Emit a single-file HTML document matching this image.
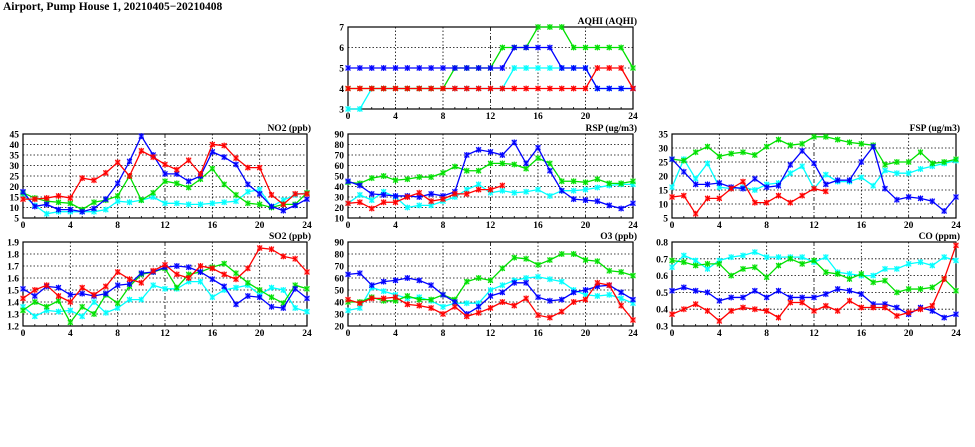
<!DOCTYPE html>
<html><head><meta charset="utf-8"><style>
html,body{margin:0;padding:0;background:#fff;width:975px;height:447px;overflow:hidden}
svg{display:block}
text{font-family:"Liberation Serif",serif;font-weight:bold;fill:#000}
</style></head><body>
<svg id="chart" width="975" height="447" xmlns="http://www.w3.org/2000/svg">
<text x="3" y="10" font-size="11.5">Airport, Pump House 1, 20210405−20210408</text>
</svg>
<script>
const hours = [0,1,2,3,4,5,6,7,8,9,10,11,12,13,14,15,16,17,18,19,20,21,22,23,24];
const xTicks = [0,4,8,12,16,20,24];
const seriesColors = ["#00ffff","#00e000","#0000ff","#ff0000"];

const aqhiTicks = [3,4,5,6,7];
const aqhiCyan  = [3,3,4,4,4,4,4,4,4,4,4,4,4,4,5,5,5,5,5,5,5,4,4,4,4];
const aqhiGreen = [4,4,4,4,4,4,4,4,4,5,5,5,5,6,6,6,7,7,7,6,6,6,6,6,5];
const aqhiBlue  = [5,5,5,5,5,5,5,5,5,5,5,5,5,5,6,6,6,6,5,5,5,4,4,4,4];
const aqhiRed   = [4,4,4,4,4,4,4,4,4,4,4,4,4,4,4,4,4,4,4,4,4,5,5,5,4];

const no2Ticks = [5,10,15,20,25,30,35,40,45];
const no2Cyan  = [16,11,7,8,8,8,8,9,13,12.5,13.5,15,12,12,11.5,11.5,12,12.5,13,17.5,18.5,10.5,13.5,16,17];
const no2Green = [17,14.5,13,12.5,12,9,12.5,13.5,15.5,25,13.5,17,22.5,21.5,19.5,23.5,28.5,21,16,12,11.5,10,11.5,11.5,17];
const no2Blue  = [17.5,10.5,11.5,9,9,8,9.5,14,21.5,32,44,35,26,26,22.5,25,36.5,34,30.5,21,16.5,10.5,8.5,11,14];
const no2Red   = [14,14,14.5,15.5,14.5,24,23,26.5,31.5,25,37,34,30.5,28,32.5,26,40,39.5,33.5,29,29,16,11.5,16.5,16.5];

const rspTicks = [10,20,30,40,50,60,70,80,90];
const rspCyan  = [24,32,27,35,30,20,22,22,26,30,37,42,34,36,34,35,37,31,36,36,37,39,41,42,42];
const rspGreen = [44,43,48,50,46,47,49,49,53,59,55,55,62,62,61,57,67,62,45,45,44,47,43,43,45];
const rspBlue  = [45,41,33,32,31,31,30,33,31,35,70,75,73,70,82,62,77,55,36,28,27,26,22,19,24];
const rspRed   = [24,25,19,25,25,30,34,26,28,33,33,37,37,41];

const fspTicks = [5,10,15,20,25,30,35];
const fspCyan  = [16,26,19,24.5,16,15.5,16,15,17,17.5,21,23.5,15.5,20.5,18,18,19.5,16.5,22,21,21,22.5,23.5,24.5,25.5];
const fspGreen = [26,25.5,28.5,30.5,27,28,28.5,27.5,30.5,33,31,31.5,34,34,33,32,31.5,31,24,25,25,28.5,24.5,25,26];
const fspBlue  = [26,21.5,17,17,17.5,16,15.5,19,16,16.5,24,29,24.5,17,18.5,18.5,25,30.5,15.5,11.5,12.5,12,11,7.5,12.5];
const fspRed   = [12.5,13,6.5,12,12,15.5,18,10.5,10.5,13,10.5,13,15.5,14.5];

const so2Ticks = [1.2,1.3,1.4,1.5,1.6,1.7,1.8,1.9];
const so2Cyan  = [1.36,1.28,1.33,1.32,1.33,1.28,1.40,1.31,1.35,1.42,1.42,1.54,1.51,1.51,1.57,1.57,1.44,1.50,1.52,1.54,1.46,1.52,1.50,1.35,1.32];
const so2Green = [1.33,1.40,1.36,1.41,1.23,1.36,1.30,1.46,1.39,1.53,1.63,1.65,1.68,1.52,1.63,1.65,1.69,1.72,1.64,1.56,1.50,1.44,1.39,1.54,1.51];
const so2Blue  = [1.51,1.45,1.53,1.52,1.46,1.47,1.45,1.47,1.54,1.55,1.64,1.65,1.69,1.70,1.69,1.65,1.59,1.53,1.38,1.45,1.44,1.36,1.35,1.51,1.43];
const so2Red   = [1.43,1.50,1.54,1.45,1.40,1.52,1.46,1.53,1.65,1.59,1.56,1.66,1.71,1.63,1.60,1.70,1.68,1.63,1.59,1.68,1.85,1.84,1.78,1.76,1.65];

const o3Ticks = [20,30,40,50,60,70,80,90];
const o3Cyan  = [33,35,52,49,46,43,44,41,36,39,39,39,50,54,58,60,61,59,57,50,46,45,46,43,39];
const o3Green = [40,40,44,41,41,45,42,42,46,42,57,60,58,68,77,76,71,75,80,80,75,74,66,65,62];
const o3Blue  = [63,64,54,57,58,60,58,54,46,40,30,36,45,48,56,56,44,41,42,48,50,53,54,48,42];
const o3Red   = [42,39,43,43,44,38,37,35,30,36,28,31,35,40,37,43,29,27,32,40,42,56,54,37,25];

const coTicks = [0.3,0.4,0.5,0.6,0.7,0.8];
const coCyan  = [.65,.72,.69,.64,.69,.71,.72,.74,.71,.71,.71,.71,.68,.71,.62,.61,.60,.60,.64,.64,.67,.68,.66,.71,.69];
const coGreen = [.69,.68,.66,.67,.67,.60,.64,.65,.59,.66,.70,.67,.69,.62,.61,.58,.61,.56,.57,.50,.52,.52,.53,.58,.51];
const coBlue  = [.51,.53,.51,.50,.45,.47,.47,.51,.47,.51,.47,.47,.47,.49,.52,.51,.49,.43,.43,.41,.37,.41,.39,.35,.37];
const coRed   = [.37,.40,.43,.39,.33,.39,.41,.40,.39,.35,.44,.44,.39,.42,.39,.45,.41,.41,.41,.36,.38,.40,.42,.58,.78];

const svg = document.getElementById('chart');
const NS = "http://www.w3.org/2000/svg";
function mk(tag, attrs, parent){
  const e = document.createElementNS(NS, tag);
  for (const k in attrs) e.setAttribute(k, attrs[k]);
  parent.appendChild(e);
  return e;
}

function panel(name, title, x0, x1, y0, y1, ticks, series){
  const g = mk('g', {}, svg);
  
  
  const ymin = ticks[0], ymax = ticks[ticks.length-1];
  const xs = h => x0 + (x1 - x0) * h / 24;
  const ys = v => y1 - (y1 - y0) * (v - ymin) / (ymax - ymin);
  const dec = (ticks[1] - ticks[0]) < 1 ? 1 : 0;
  ticks.forEach(t => {
    const y = ys(t);
    if (t !== ymin && t !== ymax) {
      const gl = mk('line', {x1:x0, x2:x1, y1:y, y2:y, stroke:'#000', 'stroke-width':0.8, 'stroke-dasharray':'1.5,2'}, g);
      
      
    }
    const tl = mk('text', {x:x0-4, y:y+3.5, 'font-size':9.5, 'text-anchor':'end'}, g);
    tl.textContent = t.toFixed(dec);
    
    
  });
  hours.forEach(h => {
    mk('line', {x1:xs(h), x2:xs(h), y1:y1, y2:y1-2, stroke:'#000', 'stroke-width':0.8}, g);
  });
  xTicks.forEach(h => {
    const x = xs(h);
    if (h !== 0 && h !== 24) {
      const gl = mk('line', {x1:x, x2:x, y1:y0, y2:y1, stroke:'#000', 'stroke-width':0.8, 'stroke-dasharray': h === 12 ? '4,2,1,2' : '1.5,2'}, g);
      
      
    }
    const tl = mk('text', {x:x, y:y1+10, 'font-size':9.5, 'text-anchor':'middle'}, g);
    tl.textContent = h;
    
    
  });
  const fr = mk('rect', {x:x0, y:y0, width:x1-x0, height:y1-y0, fill:'none', stroke:'#000', 'stroke-width':1.2}, g);
  
  
  const tt = mk('text', {x:x1+4, y:y0-3, 'font-size':9.5, 'text-anchor':'end'}, g);
  tt.textContent = title;
  
  
  series.forEach((vals, si) => {
    const c = seriesColors[si];
    const sg = mk('g', {}, g);
    
    
    const pts = vals.map((v, i) => xs(hours[i]) + ',' + ys(v)).join(' ');
    mk('polyline', {points:pts, fill:'none', stroke:c, 'stroke-width':1.3}, sg);
    vals.forEach((v, i) => {
      const px = xs(hours[i]), py = ys(v);
      const m = mk('rect', {x:px-2.5, y:py-2.5, width:5, height:5, fill:c, 'fill-opacity':0.45, stroke:'none'}, sg);
      
      
      mk('path', {d:`M${px-2.5},${py-2.5}L${px+2.5},${py+2.5}M${px-2.5},${py+2.5}L${px+2.5},${py-2.5}M${px},${py-3}V${py+3}`, stroke:c, 'stroke-width':1}, sg);
    });
  });
}

panel('aqhi', 'AQHI (AQHI)', 348, 633, 27, 109, aqhiTicks, [aqhiCyan, aqhiGreen, aqhiBlue, aqhiRed]);
panel('no2', 'NO2 (ppb)', 23, 307, 134, 218, no2Ticks, [no2Cyan, no2Green, no2Blue, no2Red]);
panel('rsp', 'RSP (ug/m3)', 348, 633, 134, 218, rspTicks, [rspCyan, rspGreen, rspBlue, rspRed]);
panel('fsp', 'FSP (ug/m3)', 672, 956, 134, 218, fspTicks, [fspCyan, fspGreen, fspBlue, fspRed]);
panel('so2', 'SO2 (ppb)', 23, 307, 242, 326, so2Ticks, [so2Cyan, so2Green, so2Blue, so2Red]);
panel('o3', 'O3 (ppb)', 348, 633, 242, 326, o3Ticks, [o3Cyan, o3Green, o3Blue, o3Red]);
panel('co', 'CO (ppm)', 672, 956, 242, 326, coTicks, [coCyan, coGreen, coBlue, coRed]);
</script>
</body></html>
